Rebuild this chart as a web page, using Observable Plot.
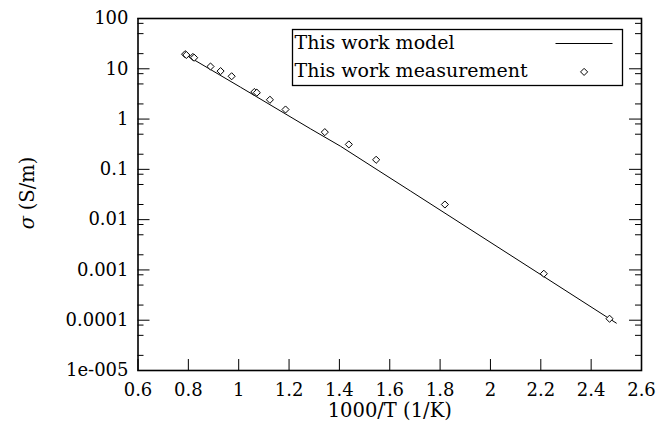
<!DOCTYPE html>
<html>
<head>
<meta charset="utf-8">
<script src="https://cdn.jsdelivr.net/npm/d3@7"></script>
<script src="https://cdn.jsdelivr.net/npm/@observablehq/plot@0.6"></script>
<style>
  html, body { margin: 0; padding: 0; background: #fff; }
  #chart svg { display: block; }
</style>
</head>
<body>
<div id="chart"></div>
<script>
// Measured ionic conductivity against inverse temperature
const measX = [0.787, 0.792, 0.818, 0.823, 0.888, 0.928, 0.972, 1.062, 1.072, 1.124, 1.186, 1.342, 1.4375, 1.546, 1.819, 2.212, 2.473];
const measSigma = [19.5, 18.8, 17.2, 16.6, 11.1, 9.0, 7.1, 3.45, 3.35, 2.42, 1.55, 0.55, 0.313, 0.155, 0.020, 0.00084, 0.000107];

// Model curve, sampled along its length
const modelX = [0.782, 1.007, 1.285, 1.404, 1.557, 1.683, 2.5];
const modelSigma = [19.86, 4.31, 0.641, 0.289, 0.0933, 0.0369, 0.0000875];

// Axis ticks and their labels
const xTicks = [0.6, 0.8, 1.0, 1.2, 1.4, 1.6, 1.8, 2.0, 2.2, 2.4, 2.6];
const xTickLabels = ["0.6", "0.8", "1", "1.2", "1.4", "1.6", "1.8", "2", "2.2", "2.4", "2.6"];
const yTicks = [1e-5, 1e-4, 1e-3, 1e-2, 1e-1, 1, 10, 100];
const yTickLabels = ["1e-005", "0.0001", "0.001", "0.01", "0.1", "1", "10", "100"];
const minorMultipliers = [2, 5, 8];

const legendLabels = ["This work model", "This work measurement"];
const xLabel = "1000/T (1/K)";
const yLabelSymbol = "σ";
const yLabelUnit = "(S/m)";

const measurements = measX.map((x, i) => ({x, sigma: measSigma[i]}));
const model = modelX.map((x, i) => ({x, sigma: modelSigma[i]}));

// minor ticks at 2, 5 and 8 within each decade
const yMinor = [];
for (let e = -5; e < 2; e++) for (const m of minorMultipliers) yMinor.push(m * Math.pow(10, e));

const W = 672, H = 439;
const mL = 137.5, mR = 31, mT = 18, mB = 69;
const innerW = W - mL - mR, innerH = H - mT - mB;
const font = "DejaVu Serif";
const majorLen = 12, minorLen = 6, xTickLen = 11;
const dotR = 3.2;

const svg = Plot.plot({
  width: W,
  height: H,
  marginLeft: mL,
  marginRight: mR,
  marginTop: mT,
  marginBottom: mB,
  style: {fontFamily: font, fontSize: "18px", color: "black", background: "white"},
  x: {domain: [0.6, 2.6]},
  y: {type: "log", domain: [1e-5, 100]},
  marks: [
    // inward ticks on left, right and bottom edges
    Plot.tickY(yTicks, {y: d => d, insetRight: innerW - majorLen, stroke: "black", strokeWidth: 1}),
    Plot.tickY(yTicks, {y: d => d, insetLeft: innerW - majorLen, stroke: "black", strokeWidth: 1}),
    Plot.tickY(yMinor, {y: d => d, insetRight: innerW - minorLen, stroke: "black", strokeWidth: 1}),
    Plot.tickY(yMinor, {y: d => d, insetLeft: innerW - minorLen, stroke: "black", strokeWidth: 1}),
    Plot.tickX(xTicks, {x: d => d, insetTop: innerH - xTickLen, stroke: "black", strokeWidth: 1}),
    Plot.axisX(xTicks, {
      tickSize: 0, tickPadding: 13, label: null,
      tickFormat: d => xTickLabels[xTicks.indexOf(d)]
    }),
    Plot.axisY(yTicks, {
      tickSize: 0, tickPadding: 9.5, label: null,
      tickFormat: d => yTickLabels[yTicks.indexOf(d)]
    }),
    Plot.line(model, {x: "x", y: "sigma", stroke: "black", strokeWidth: 1}),
    Plot.dot(measurements, {x: "x", y: "sigma", symbol: "diamond2", r: dotR, stroke: "black", fill: "white", strokeWidth: 1}),
    Plot.frame({stroke: "black", strokeWidth: 1.6}),
    Plot.text([xLabel], {frameAnchor: "bottom", dy: 40, lineAnchor: "middle", fontSize: 19.5}),
    Plot.text([yLabelUnit], {frameAnchor: "left", dx: 27 - mL, dy: -11, rotate: -90, textAnchor: "middle", lineAnchor: "middle", fontSize: 19.5}),
    Plot.text([yLabelSymbol], {frameAnchor: "left", dx: 27 - mL, dy: 28, rotate: -90, textAnchor: "middle", lineAnchor: "middle", fontSize: 19.5, fontStyle: "italic"})
  ]
});

// Legend box in the upper right of the plot area
const lg = d3.select(svg).append("g")
  .attr("font-family", font)
  .attr("font-size", 19)
  .attr("text-anchor", "start")
  .attr("fill", "black")
  .attr("transform", `translate(${mL + 155},${mT + 11.5})`);
lg.append("rect")
  .attr("width", 330).attr("height", 56)
  .attr("fill", "white").attr("stroke", "black").attr("stroke-width", 1.3);
lg.append("text").attr("x", 2).attr("y", 19.5).attr("text-anchor", "start").text(legendLabels[0]);
lg.append("text").attr("x", 2).attr("y", 47.5).attr("text-anchor", "start").text(legendLabels[1]);
lg.append("line")
  .attr("x1", 263).attr("x2", 320).attr("y1", 14).attr("y2", 14)
  .attr("stroke", "black").attr("stroke-width", 1);
lg.append("path")
  .attr("transform", "translate(291.6,42.4)")
  .attr("d", d3.symbol(d3.symbolDiamond2, Math.PI * dotR * dotR)())
  .attr("fill", "white").attr("stroke", "black").attr("stroke-width", 1);

document.getElementById("chart").appendChild(svg);
</script>
</body>
</html>
